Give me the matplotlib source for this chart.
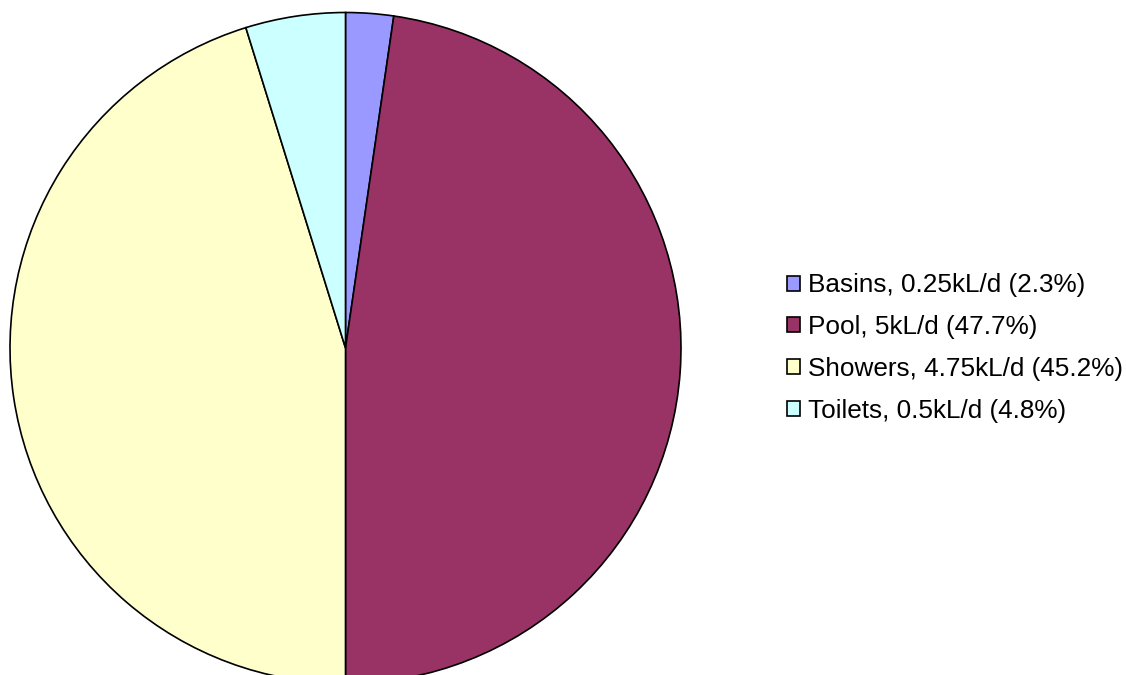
import matplotlib
matplotlib.use("Agg")
import matplotlib.pyplot as plt

plt.rcParams['font.family'] = ['Liberation Sans', 'DejaVu Sans']

# data
kategori = ["Basins", "Pool", "Showers", "Toilets"]
debit = ["0.25", "5", "4.75", "0.5"]          # kL/d
persen = [2.3, 47.7, 45.2, 4.8]
warna = ["#9999FF", "#993366", "#FFFFCC", "#CCFFFF"]

label = [f"{k}, {d}kL/d ({p}%)" for k, d, p in zip(kategori, debit, persen)]

W, H = 1126, 675
fig = plt.figure(figsize=(W / 100, H / 100), dpi=100)

# pie: center (345.5, 348) px from top-left, radius 335.5 px
cx, cy, r = 345.5, 348, 335.5
ax = fig.add_axes([(cx - r) / W, (H - cy - r) / H, 2 * r / W, 2 * r / H])
wedges, _ = ax.pie(persen, colors=warna, startangle=90, counterclock=False,
                   radius=1, wedgeprops=dict(edgecolor="black", linewidth=1.2))
ax.set_xlim(-1, 1)
ax.set_ylim(-1, 1)
ax.set_aspect("equal")
ax.axis("off")

fig.legend(wedges, label, loc="center left",
           bbox_to_anchor=(787 / W, (H - 348) / H),
           frameon=False, fontsize=18.8, borderpad=0, borderaxespad=0,
           handlelength=0.5, handleheight=0.5, handletextpad=0.3,
           labelspacing=0.68)

fig.savefig("out.png", dpi=100)
